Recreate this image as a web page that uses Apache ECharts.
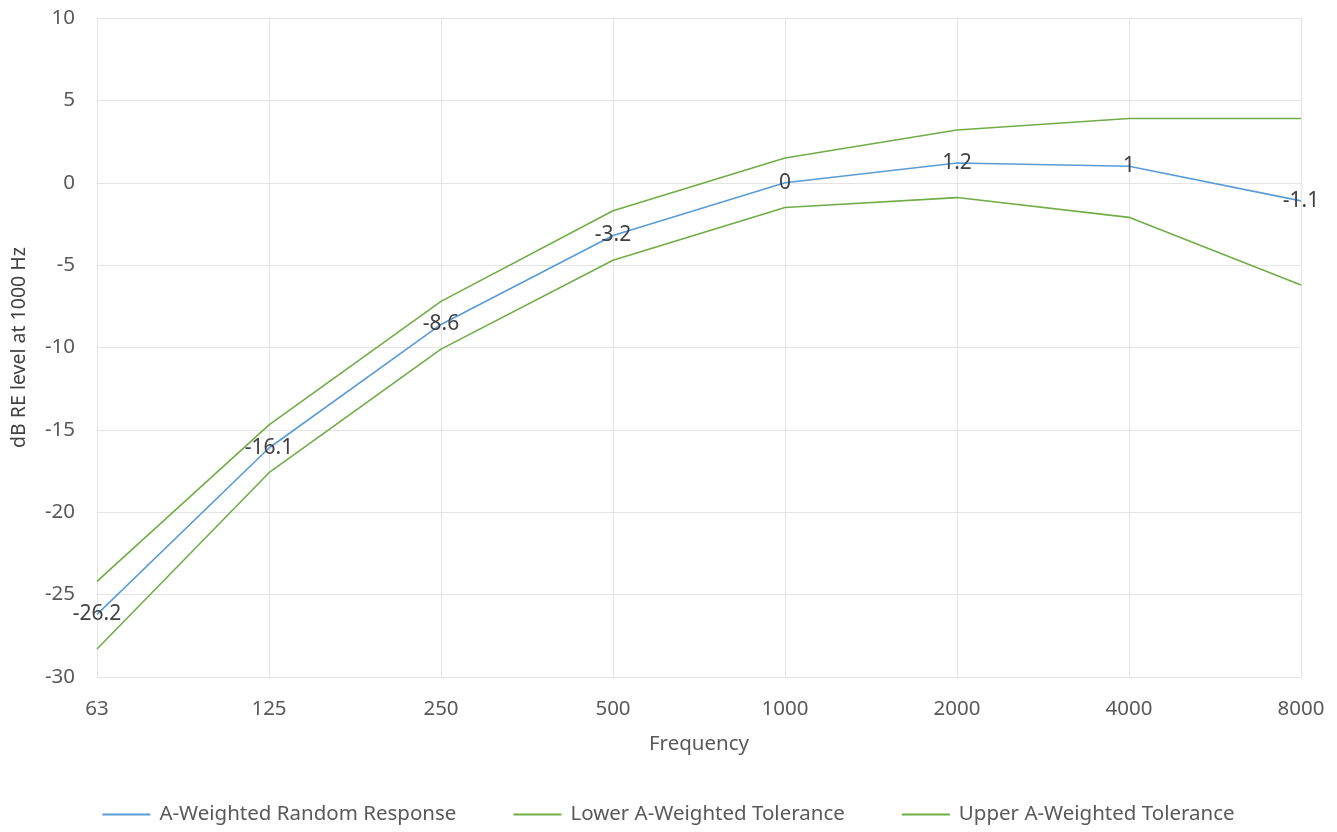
<!DOCTYPE html>
<html>
<head>
<meta charset="utf-8">
<script src="https://cdn.jsdelivr.net/npm/echarts@6/dist/echarts.min.js"></script>
<style>
  html, body { margin: 0; padding: 0; background: #fff; }
  #chart { width: 1337px; height: 832px; }
</style>
</head>
<body>
<div id="chart"></div>
<script>
const frequencies = ["63", "125", "250", "500", "1000", "2000", "4000", "8000"];
const responseValues = [-26.2, -16.1, -8.6, -3.2, 0, 1.2, 1, -1.1];
const lowerTolerance = [-28.3, -17.6, -10.1, -4.7, -1.5, -0.9, -2.1, -6.2];
const upperTolerance = [-24.2, -14.7, -7.2, -1.7, 1.5, 3.2, 3.9, 3.9];

const fontFamily = "Noto Sans";
const textColor = "#595959";
const gridColor = "#e4e4e4";

const chart = echarts.init(document.getElementById("chart"));

function lineSeries(name, data, color, withLabels) {
  return {
    name: name,
    type: "line",
    data: data,
    symbol: withLabels ? "circle" : "none",
    showSymbol: withLabels,
    symbolSize: 0.01,
    lineStyle: { color: color, width: 1.6 },
    itemStyle: { color: color },
    animation: false,
    label: {
      show: withLabels,
      position: "inside",
      color: "#404040",
      fontFamily: fontFamily,
      fontSize: 21
    },
    z: withLabels ? 3 : 2
  };
}

const option = {
  backgroundColor: "#fff",
  grid: { left: 97, right: 36, top: 18, bottom: 155 },
  legend: {
    bottom: 2,
    left: "center",
    itemWidth: 48,
    itemHeight: 2,
    itemGap: 57,
    icon: "rect",
    textStyle: { color: textColor, fontFamily: fontFamily, fontSize: 20.5, padding: [0, 0, 0, 4] },
    data: [
      "A-Weighted Random Response",
      "Lower A-Weighted Tolerance",
      "Upper A-Weighted Tolerance"
    ]
  },
  xAxis: {
    type: "category",
    data: frequencies,
    boundaryGap: false,
    name: "Frequency",
    nameLocation: "middle",
    nameGap: 57,
    nameTextStyle: { color: textColor, fontFamily: fontFamily, fontSize: 20.5 },
    axisLine: { lineStyle: { color: gridColor } },
    axisTick: { show: false },
    axisLabel: { color: textColor, fontFamily: fontFamily, fontSize: 20.5, margin: 22 },
    splitLine: { show: true, lineStyle: { color: gridColor } }
  },
  yAxis: {
    type: "value",
    min: -30,
    max: 10,
    interval: 5,
    name: "dB RE level at 1000 Hz",
    nameLocation: "middle",
    nameRotate: 90,
    nameGap: 68,
    nameTextStyle: { color: "#404040", fontFamily: fontFamily, fontSize: 19.5 },
    axisLine: { show: true, lineStyle: { color: gridColor } },
    axisTick: { show: false },
    axisLabel: { color: textColor, fontFamily: fontFamily, fontSize: 20.5, margin: 22 },
    splitLine: { lineStyle: { color: gridColor } }
  },
  series: [
    lineSeries("A-Weighted Random Response", responseValues, "#5b9bd5", true),
    lineSeries("Lower A-Weighted Tolerance", lowerTolerance, "#70ad47", false),
    lineSeries("Upper A-Weighted Tolerance", upperTolerance, "#70ad47", false)
  ]
};

chart.setOption(option);
</script>
</body>
</html>
